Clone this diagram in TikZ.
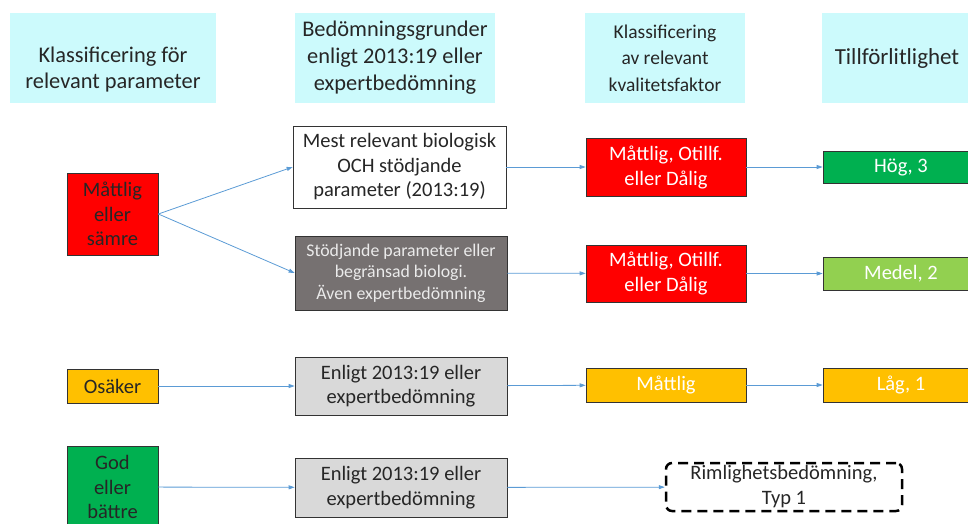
\documentclass[tikz,border=0pt]{standalone}
\usepackage{fontspec}
\setmainfont{Carlito}
\usetikzlibrary{arrows.meta}

\definecolor{hdrcyan}{RGB}{204,250,252}
\definecolor{pilblue}{RGB}{91,155,213}
\definecolor{rod}{RGB}{255,0,0}
\definecolor{gron}{RGB}{0,176,80}
\definecolor{ljusgron}{RGB}{146,208,80}
\definecolor{gul}{RGB}{255,192,0}
\definecolor{morkgra}{RGB}{118,113,113}
\definecolor{ljusgra}{RGB}{217,217,217}

\begin{document}
\begin{tikzpicture}[x=1pt, y=-1pt,
  hdr/.style={fill=hdrcyan, align=center, inner sep=0pt, text=black!85,
    font=\fontsize{22.4}{27}\selectfont, minimum height=90pt},
  ruta/.style={draw=black!80, line width=0.7pt, align=center, inner sep=0pt,
    font=\fontsize{20.5}{24.5}\selectfont, text=black!85},
  vit/.style={ruta, text=white, font=\fontsize{20.5}{25}\selectfont},
  pil/.style={draw=pilblue, line width=0.8pt, -{Triangle[length=6pt,width=4pt]}}]

\useasboundingbox (0,0) rectangle (968,523);

% rubriker
\node[hdr, minimum width=206pt, font=\fontsize{22.4}{26}\selectfont] (h1) at (113,58)
  {\mbox{}\\[12pt]Klassificering för\\relevant parameter};
\node[hdr, minimum width=200pt] (h2) at (395,58) {Bedömningsgrunder\\enligt 2013:19 eller\\expertbedömning};
\node[hdr, minimum width=160pt, font=\fontsize{19.5}{26.5}\selectfont] (h3) at (665,58)
  {Klassificering\\av relevant\\kvalitetsfaktor};
\node[hdr, minimum width=150pt, font=\fontsize{23}{27}\selectfont] (h4) at (897,58) {Tillförlitlighet};

% rad 1 och 2
\node[ruta, fill=rod, minimum width=91pt, minimum height=82pt] (sam) at (112.5,214) {Måttlig\\eller\\sämre};
\node[ruta, fill=white, minimum width=213pt, minimum height=82pt] (mest) at (399.5,167)
  {Mest relevant biologisk\\OCH stödjande\\parameter (2013:19)};
\node[ruta, fill=morkgra, minimum width=212pt, minimum height=74pt, text=white!92!black,
  font=\fontsize{17.8}{21.5}\selectfont] (stod) at (401,273)
  {Stödjande parameter eller\\begränsad biologi.\\Även expertbedömning};
\node[vit, fill=rod, minimum width=160pt, minimum height=58pt] (k1) at (666,167) {Måttlig, Otillf.\\eller Dålig};
\node[vit, fill=rod, minimum width=160pt, minimum height=57pt] (k2) at (666,273.5) {Måttlig, Otillf.\\eller Dålig};
\node[vit, fill=gron, minimum width=156pt, minimum height=32pt] (hog) at (901,167) {Hög, 3};
\node[vit, fill=ljusgron, minimum width=156pt, minimum height=33pt] (med) at (901,273.5) {Medel, 2};

% rad 3
\node[ruta, fill=gul, minimum width=91pt, minimum height=34pt] (osa) at (112.5,386) {Osäker};
\node[ruta, fill=ljusgra, minimum width=212pt, minimum height=58pt] (enl1) at (401,386) {Enligt 2013:19 eller\\expertbedömning};
\node[vit, fill=gul, minimum width=160pt, minimum height=34pt] (mat) at (666,385) {Måttlig};
\node[vit, fill=gul, minimum width=156pt, minimum height=34pt] (lag) at (901,385) {Låg, 1};

% rad 4
\node[ruta, fill=gron, minimum width=91pt, minimum height=82pt] (god) at (112.5,487) {God\\eller\\bättre};
\node[ruta, fill=ljusgra, minimum width=212pt, minimum height=59pt] (enl2) at (401,487.5) {Enligt 2013:19 eller\\expertbedömning};
\node[draw=black, line width=2.5pt, dash pattern=on 10pt off 6pt, rounded corners=6pt,
  align=center, inner sep=0pt, minimum width=236pt, minimum height=48pt,
  font=\fontsize{20.5}{25}\selectfont, text=black!85] (rim) at (784,487) {Rimlighetsbedömning,\\Typ 1};

% pilar
\draw[pil] (sam.east) -- (mest.west);
\draw[pil] (sam.east) -- (stod.west);
\draw[pil] (mest) -- (k1);
\draw[pil] (k1) -- (hog);
\draw[pil] (stod) -- (k2);
\draw[pil] (k2) -- (med);
\draw[pil] (osa) -- (enl1);
\draw[pil] (enl1) -- (mat);
\draw[pil] (mat) -- (lag);
\draw[pil] (god) -- (enl2);
\draw[pil] (enl2) -- (rim);

\end{tikzpicture}
\end{document}
